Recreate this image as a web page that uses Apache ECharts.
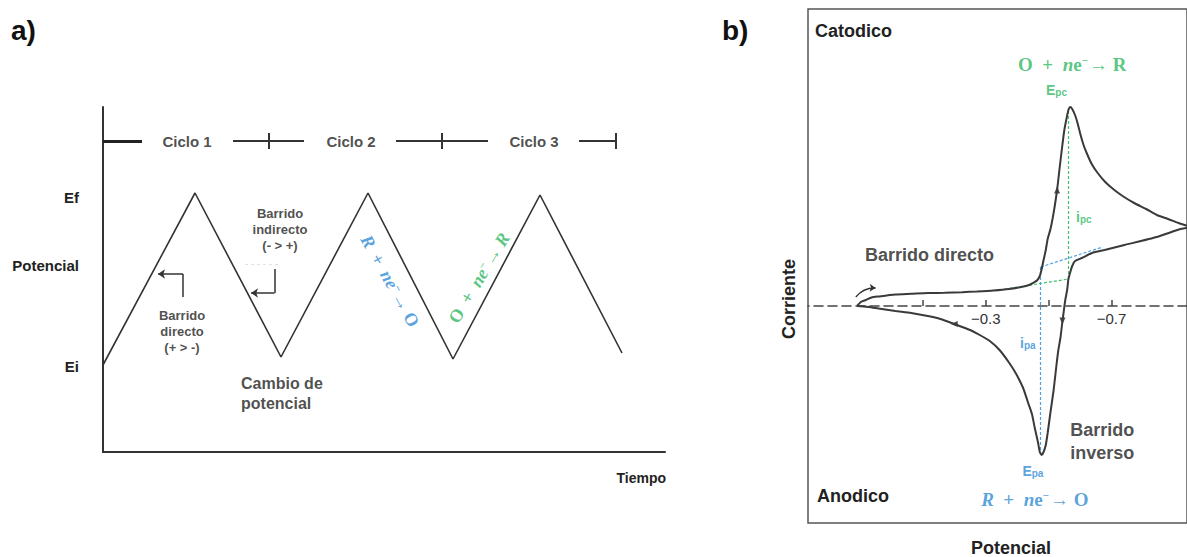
<!DOCTYPE html>
<html><head><meta charset="utf-8">
<script src="https://cdn.jsdelivr.net/npm/echarts@6/dist/echarts.min.js"></script>
<style>html,body{margin:0;padding:0;background:#fff}#c{width:1187px;height:557px}</style>
</head><body><div id="c"></div>
<script>
// ---------- Panel a: triangular potential sweep ----------
const timeA = [0, 9.2, 17.8, 26.5, 35.0, 43.7, 51.9];
const potA  = [8.7, 25.9, 9.5, 25.9, 9.3, 25.7, 9.9];
const potTickValues = [8.6, 18.7, 25.5];
const potTickLabels = ['Ei', 'Potencial', 'Ef'];
const cycleLabels = ['Ciclo 1', 'Ciclo 2', 'Ciclo 3'];
const cycleLabelT = [8.4, 24.8, 43.1];
const cycleSegments = [[0, 3.9], [13.0, 20.1], [29.3, 38.5], [47.6, 51.4]];
const cycleBounds = [16.56, 33.9, 51.3];
const cycleLevel = 31.1;

// ---------- Panel b: cyclic voltammogram ----------
const cvE = [0.109,0.097,0.081,0.063,0.041,-0.013,-0.063,-0.116,-0.169,-0.225,-0.272,-0.325,-0.375,-0.413,-0.438,-0.453,-0.463,-0.472,-0.478,-0.484,-0.491,-0.497,-0.506,-0.513,-0.519,-0.527,-0.535,-0.543,-0.55,-0.558,-0.563,-0.569,-0.575,-0.584,-0.592,-0.6,-0.61,-0.621,-0.637,-0.656,-0.68,-0.709,-0.74,-0.772,-0.81,-0.844,-0.88,-0.913,-0.95,
  -0.919,-0.844,-0.741,-0.678,-0.638,-0.606,-0.584,-0.575,-0.569,-0.563,-0.559,-0.553,-0.547,-0.544,-0.538,-0.531,-0.525,-0.516,-0.506,-0.497,-0.491,-0.484,-0.478,-0.472,-0.466,-0.456,-0.447,-0.434,-0.419,-0.397,-0.375,-0.344,-0.313,-0.281,-0.25,-0.2,-0.156,-0.116,-0.063,-0.013,0.041,0.072,0.109];
const cvI = [0,0.4,0.6,0.85,0.95,1.15,1.22,1.3,1.32,1.38,1.45,1.55,1.7,1.9,2.1,2.35,2.55,3.0,3.7,4.6,5.6,6.7,7.7,8.8,9.9,11.6,13.8,15.9,17.6,18.9,19.6,19.9,19.7,19.1,18.3,17.3,16.2,15.3,14.2,13.3,12.4,11.6,10.9,10.3,9.7,9.1,8.7,8.3,7.9,
  7.7,6.9,6.1,5.6,5.3,4.8,4.5,4.0,3.4,2.7,1.6,0.6,-0.8,-1.5,-3.1,-4.4,-5.9,-8.4,-10.6,-12.7,-13.9,-14.6,-14.9,-14.6,-13.6,-12.2,-10.8,-9.6,-8.2,-6.8,-5.7,-4.4,-3.5,-2.9,-2.4,-1.8,-1.3,-1.0,-0.7,-0.5,-0.25,-0.1,0];
const potTicksB = [-0.1, -0.3, -0.5, -0.7];
const potLabelsB = [-0.3, -0.7];
const Epc = -0.563, ipcTop = 19.5, ipcBase = 2.7;
const Epa = -0.475, ipaBottom = -14.6, ipaBase = 3.9;
const cathBaseE = [-0.344, -0.563], cathBaseI = [1.6, 2.7];
const anodBaseE = [-0.475, -0.672], anodBaseI = [3.9, 5.9];

const SANS = '"Liberation Sans", Arial, sans-serif';
const SERIF = '"Liberation Serif", "DejaVu Serif", serif';
const GREEN = '#2fb862', BLUE = '#2f8bd3';

function zip(a, b) { return a.map((v, i) => [v, b[i]]); }
function seg(p, q) { return { coords: [p, q] }; }
function ann(x, y, text, lab) {
  return { value: [x, y], label: Object.assign({ show: true, position: 'inside', formatter: text,
    fontFamily: SANS, fontWeight: 'bold', color: '#222', align: 'center', verticalAlign: 'middle' }, lab || {}) };
}
function formulaRich(color, size) {
  size = size || 18;
  return {
    u: { fontFamily: SERIF, fontWeight: 'bold', fontSize: size, color: color },
    i: { fontFamily: SERIF, fontWeight: 'bold', fontStyle: 'italic', fontSize: size, color: color },
    s: { fontFamily: SERIF, fontWeight: 'bold', fontSize: 11, color: color, padding: [0, 1, 8, 0] }
  };
}
function subRich(color) {
  return {
    m: { fontFamily: SANS, fontSize: 14, color: color },
    s: { fontFamily: SANS, fontSize: 10, color: color, padding: [5, 0, 0, 0] }
  };
}

const annotationsA = [
  ...cycleLabels.map((c, k) => ann(cycleLabelT[k], cycleLevel, c, { fontSize: 15 })),
  ann(7.9, 12.1, 'Barrido\ndirecto\n(+ > -)', { fontSize: 13, lineHeight: 16 }),
  ann(17.7, 22.3, 'Barrido\nindirecto\n(- > +)', { fontSize: 13, lineHeight: 16 }),
  ann(13.8, 5.9, 'Cambio de\npotencial', { fontSize: 16, lineHeight: 20, align: 'left' }),
  ann(28.7, 17.1, '{i|R}{u|  +  }{i|ne}{s|−}{u|→ O}', { rotate: -61, rich: formulaRich(BLUE, 18) }),
  ann(37.6, 17.4, '{u|O  +  }{i|ne}{s|−}{u|→}{i| R}', { rotate: 59, rich: formulaRich(GREEN, 18) })
];
const annotationsB = [
  ann(-0.575, 24.2, '{u|O  +  }{i|n}{u|e}{s|−}{u|→ R}', { rich: formulaRich(GREEN, 19) }),
  ann(-0.525, 21.6, '{m|E}{s|pc}', { rich: subRich(GREEN) }),
  ann(-0.612, 8.9, '{m|i}{s|pc}', { rich: subRich(GREEN) }),
  ann(0.084, 5.1, 'Barrido directo', { fontSize: 18, align: 'left' }),
  ann(-0.434, -3.7, '{m|i}{s|pa}', { rich: subRich(BLUE) }),
  ann(-0.45, -16.5, '{m|E}{s|pa}', { rich: subRich(BLUE) }),
  ann(-0.569, -13.55, 'Barrido\ninverso', { fontSize: 18, lineHeight: 23, align: 'left' }),
  ann(-0.456, -19.3, '{i|R}{u|  +  }{i|n}{u|e}{s|−}{u|→ O}', { rich: formulaRich(BLUE, 19) })
];

const chart = echarts.init(document.getElementById('c'), null, { renderer: 'svg' });
chart.setOption({
  animation: false,
  backgroundColor: '#fff',
  grid: [
    { left: 103, top: 107, width: 562, height: 345, show: false },
    { left: 808, top: 9, width: 385.6, height: 514, show: true, borderColor: '#555', borderWidth: 1.5, backgroundColor: 'transparent' },
    { left: 808, top: 306, width: 385.6, height: 217, show: false }
  ],
  xAxis: [
    { gridIndex: 0, type: 'value', min: 0, max: 56.2,
      axisLine: { show: true, onZero: false, lineStyle: { color: '#333', width: 2 } },
      axisTick: { show: false }, axisLabel: { show: false }, splitLine: { show: false } },
    { gridIndex: 1, type: 'value', inverse: true, min: -0.94, max: 0.265, show: false, splitLine: { show: false } },
    { gridIndex: 2, type: 'value', position: 'top', inverse: true, min: -0.94, max: 0.265,
      axisLine: { show: true, onZero: false, lineStyle: { color: '#444', width: 1.6, type: [9, 5] } },
      axisTick: { show: true, inside: false, length: 6, customValues: potTicksB, lineStyle: { color: '#444', width: 1.5 } },
      axisLabel: { show: true, inside: true, customValues: potLabelsB, margin: 5, fontFamily: SANS, fontSize: 15, color: '#333',
        formatter: v => (v < 0 ? '\u2212' : '') + Math.abs(v).toFixed(1) },
      splitLine: { show: false } }
  ],
  yAxis: [
    { gridIndex: 0, type: 'value', min: 0, max: 34.5,
      axisLine: { show: true, lineStyle: { color: '#333', width: 2 } },
      axisTick: { show: false }, splitLine: { show: false },
      axisLabel: { show: true, customValues: potTickValues, margin: 24, fontFamily: SANS, fontWeight: 'bold', fontSize: 15, color: '#222',
        formatter: v => { const k = potTickValues.indexOf(v); return k >= 0 ? potTickLabels[k] : ''; } } },
    { gridIndex: 1, type: 'value', min: -21.7, max: 29.7, show: false, splitLine: { show: false } },
    { gridIndex: 2, type: 'value', min: 0, max: 1, show: false, splitLine: { show: false } }
  ],
  series: [
    { type: 'line', xAxisIndex: 0, yAxisIndex: 0, data: zip(timeA, potA), symbol: 'none',
      lineStyle: { color: '#333', width: 1.6 } },
    { type: 'lines', coordinateSystem: 'cartesian2d', xAxisIndex: 0, yAxisIndex: 0, symbol: 'none',
      lineStyle: { color: '#333', width: 2, opacity: 1 },
      data: cycleSegments.map(s => seg([s[0], cycleLevel], [s[1], cycleLevel])).concat(
        cycleBounds.map(b => seg([b, cycleLevel - 0.8], [b, cycleLevel + 0.8]))) },
    { type: 'lines', coordinateSystem: 'cartesian2d', xAxisIndex: 0, yAxisIndex: 0, symbol: 'none',
      lineStyle: { color: '#222', width: 3, opacity: 1 },
      data: [seg([cycleSegments[0][0], cycleLevel], [cycleSegments[0][1], cycleLevel])] },
    // bent arrows in panel a
    { type: 'lines', coordinateSystem: 'cartesian2d', xAxisIndex: 0, yAxisIndex: 0, symbol: 'none',
      lineStyle: { color: '#333', width: 1.5, opacity: 1 },
      data: [seg([8.0, 15.5], [8.0, 17.8]), seg([17.15, 18.3], [17.15, 15.9])] },
    { type: 'lines', coordinateSystem: 'cartesian2d', xAxisIndex: 0, yAxisIndex: 0, symbol: ['none', 'arrow'], symbolSize: 7,
      lineStyle: { color: '#333', width: 1.5, opacity: 1 },
      data: [seg([8.0, 17.8], [5.5, 17.8]), seg([17.15, 15.9], [14.8, 15.9])] },
    { type: 'lines', coordinateSystem: 'cartesian2d', xAxisIndex: 0, yAxisIndex: 0, symbol: 'none',
      lineStyle: { color: '#e2e2e2', width: 1, type: [3, 3], opacity: 1 },
      data: [seg([14.2, 18.8], [17.6, 18.8])] },
    { type: 'scatter', xAxisIndex: 0, yAxisIndex: 0, symbolSize: 0, data: annotationsA, silent: true },

    // panel b
    { type: 'lines', coordinateSystem: 'cartesian2d', xAxisIndex: 1, yAxisIndex: 1, symbol: 'none',
      lineStyle: { color: '#3fc46e', width: 1.2, type: [3, 2], opacity: 1 },
      data: [seg([cathBaseE[0], cathBaseI[0]], [cathBaseE[1], cathBaseI[1]]), seg([Epc, ipcBase], [Epc, ipcTop])] },
    { type: 'lines', coordinateSystem: 'cartesian2d', xAxisIndex: 1, yAxisIndex: 1, symbol: 'none',
      lineStyle: { color: '#4d9fe2', width: 1.2, type: [3, 2], opacity: 1 },
      data: [seg([anodBaseE[0], anodBaseI[0]], [anodBaseE[1], anodBaseI[1]]), seg([Epa, ipaBase], [Epa, ipaBottom])] },
    { type: 'line', xAxisIndex: 1, yAxisIndex: 1, data: zip(cvE, cvI), symbol: 'none', smooth: 0.2,
      lineStyle: { color: '#3a3a3a', width: 2 } },
    { type: 'scatter', xAxisIndex: 1, yAxisIndex: 1, symbol: 'triangle', symbolSize: [6, 7],
      itemStyle: { color: '#222' }, silent: true,
      data: [ { value: [-0.527, 11.6], symbolRotate: 0 }, { value: [-0.544, -1.5], symbolRotate: 180 }, { value: [-0.2, -1.8], symbolRotate: 90 } ] },
    { type: 'lines', coordinateSystem: 'cartesian2d', xAxisIndex: 1, yAxisIndex: 1, symbol: ['none', 'arrow'], symbolSize: 6,
      lineStyle: { color: '#333', width: 1.3, curveness: 0.25, opacity: 1 },
      data: [seg([0.113, 0.9], [0.05, 1.8])] },
    { type: 'scatter', xAxisIndex: 1, yAxisIndex: 1, symbolSize: 0, data: annotationsB, silent: true }
  ],
  graphic: [
    { type: 'text', left: 11, top: 16, style: { text: 'a)', font: 'bold 28px ' + SANS, fill: '#111' } },
    { type: 'text', left: 722, top: 16, style: { text: 'b)', font: 'bold 28px ' + SANS, fill: '#111' } },
    { type: 'text', x: 666, y: 478, style: { text: 'Tiempo', font: 'bold 14px ' + SANS, fill: '#222', align: 'right', verticalAlign: 'middle' } },
    { type: 'text', x: 789, y: 299, rotation: Math.PI / 2, style: { text: 'Corriente', font: 'bold 18px ' + SANS, fill: '#222', align: 'center', verticalAlign: 'middle' } },
    { type: 'text', x: 1011, y: 548, style: { text: 'Potencial', font: 'bold 18px ' + SANS, fill: '#222', align: 'center', verticalAlign: 'middle' } },
    { type: 'text', x: 815, y: 31, style: { text: 'Catodico', font: 'bold 18px ' + SANS, fill: '#222', align: 'left', verticalAlign: 'middle' } },
    { type: 'text', x: 817, y: 496, style: { text: 'Anodico', font: 'bold 18px ' + SANS, fill: '#222', align: 'left', verticalAlign: 'middle' } }
  ]
});
</script></body></html>
